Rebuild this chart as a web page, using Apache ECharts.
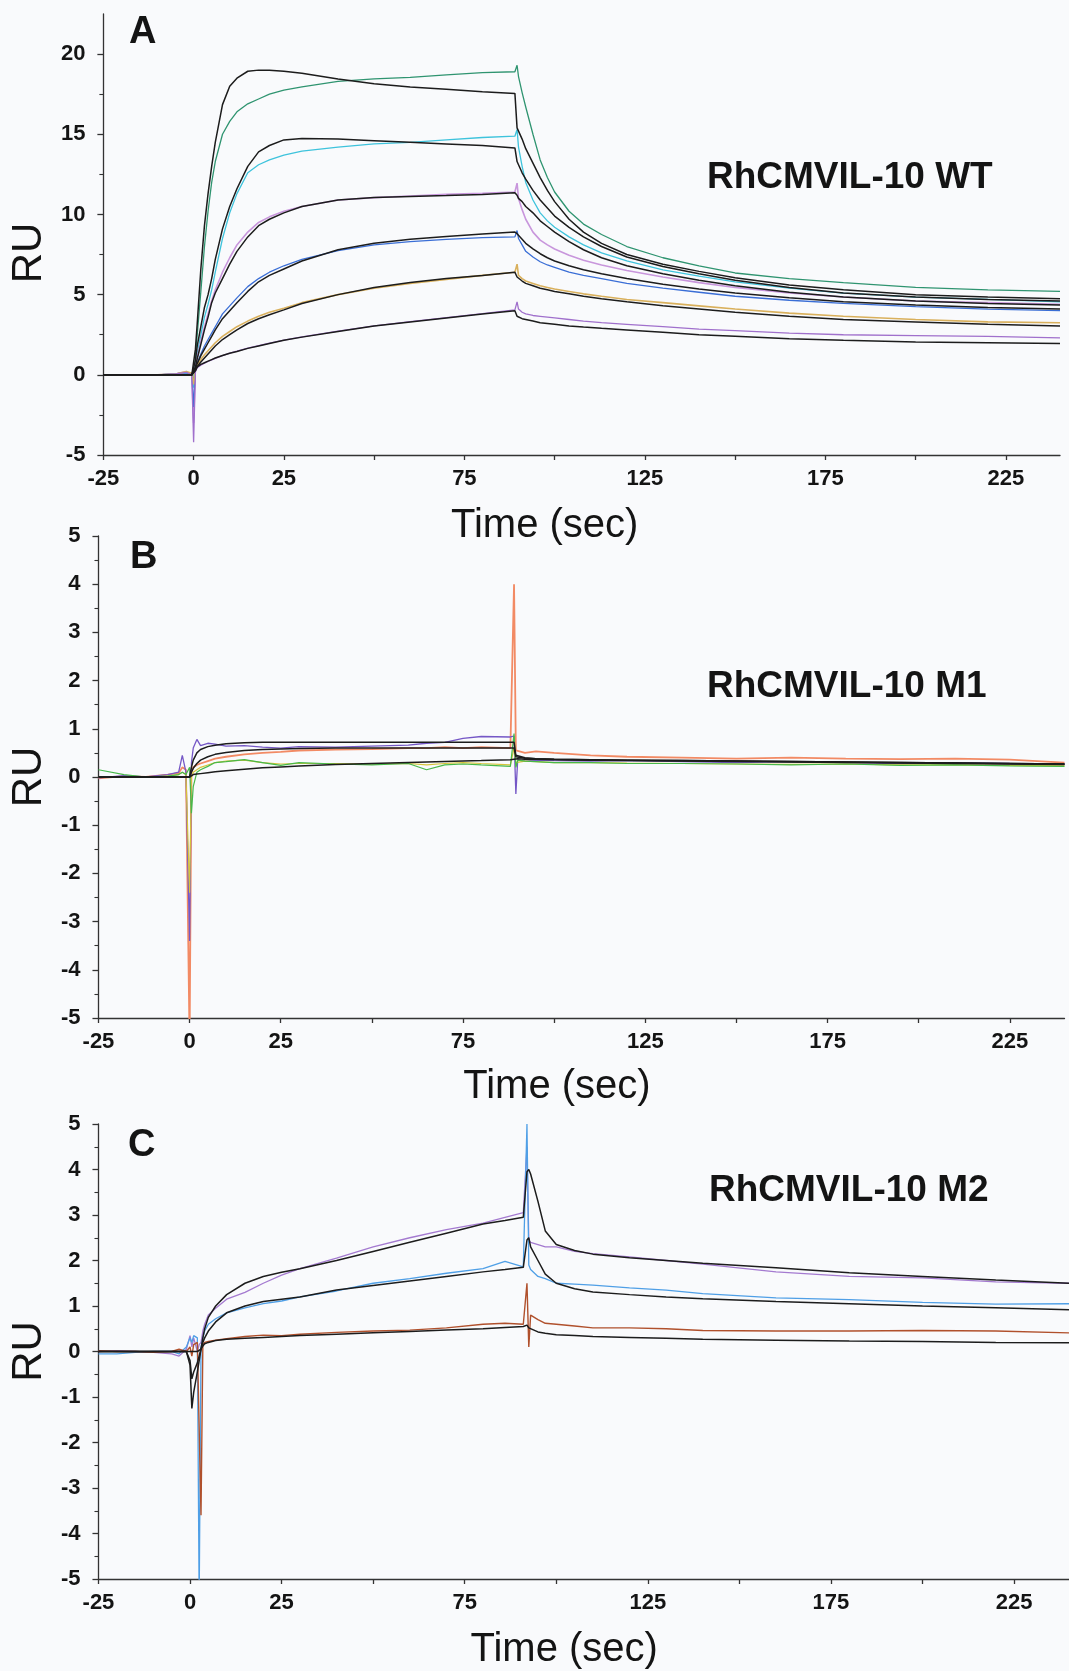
<!DOCTYPE html>
<html>
<head>
<meta charset="utf-8">
<script src="https://cdn.jsdelivr.net/npm/echarts@6/dist/echarts.min.js"></script>
<style>
html,body{margin:0;padding:0;background:#f9fafc;}
#chart{width:1069px;height:1671px;}
</style>
</head>
<body>
<div id="chart"></div>
<script>
// ---------- Tick definitions ----------
const xTickValues = [-25, 0, 25, 50, 75, 100, 125, 150, 175, 200, 225];
const xLabelValues = [-25, 0, 25, 75, 125, 175, 225];
const yTickValuesA = [-5, 0, 5, 10, 15, 20];

// ---------- Panel A : RhCMVIL-10 WT ----------
const tA = [-25, -10, -5, -2, -0.5, 0, 0.5, 1, 2, 3, 4, 5, 6, 8, 10, 12, 15, 18, 21, 25, 30, 40, 50, 60, 70, 80, 89, 89.6, 90, 91, 92, 94, 96, 98, 100, 104, 108, 113, 120, 130, 140, 150, 165, 180, 200, 220, 240];
const aGreen = [0, 0, 0.05, 0.15, 0.05, -0.5, 1.2, 2.5, 5.2, 8.0, 10.2, 12.0, 13.3, 15.0, 15.8, 16.4, 16.9, 17.2, 17.5, 17.75, 17.95, 18.3, 18.45, 18.55, 18.7, 18.85, 18.9, 19.3, 18.6, 17.6, 16.7, 15.0, 13.4, 12.3, 11.4, 10.2, 9.4, 8.75, 8.0, 7.3, 6.8, 6.35, 6.0, 5.75, 5.45, 5.3, 5.2];
const aFit1 = [0, 0, 0, 0, 0, 0, 1.6, 3.2, 6.6, 9.3, 11.3, 13.0, 14.5, 16.85, 18.0, 18.5, 18.93, 19.0, 19.0, 18.93, 18.8, 18.45, 18.15, 17.95, 17.8, 17.65, 17.55, 15.4, 15.3, 14.7, 14.1, 13.2, 12.3, 11.5, 10.8, 9.7, 8.9, 8.2, 7.5, 6.9, 6.45, 6.05, 5.6, 5.3, 5.0, 4.85, 4.75];
const aCyan = [0, 0, 0.05, 0.1, 0, -0.8, 0.7, 1.3, 2.5, 3.6, 4.4, 5.3, 6.4, 8.5, 10.1, 11.3, 12.6, 13.1, 13.4, 13.7, 13.95, 14.2, 14.4, 14.5, 14.65, 14.8, 14.88, 15.3, 14.2, 13.0, 12.0, 10.9, 10.1, 9.6, 9.2, 8.6, 8.1, 7.6, 7.1, 6.55, 6.15, 5.8, 5.4, 5.1, 4.85, 4.7, 4.55];
const aFit2 = [0, 0, 0, 0, 0, 0, 0.9, 1.8, 3.0, 4.2, 5.0, 6.0, 7.2, 9.1, 10.5, 11.6, 13.0, 13.9, 14.3, 14.65, 14.73, 14.7, 14.6, 14.5, 14.4, 14.3, 14.15, 13.3, 13.1, 12.6, 12.2, 11.5, 10.9, 10.4, 9.9, 9.2, 8.6, 8.0, 7.35, 6.75, 6.3, 5.9, 5.45, 5.1, 4.85, 4.7, 4.6];
const aPink = [0, 0, 0.05, 0.2, 0, -3.0, 0.5, 1.1, 2.1, 3.0, 3.8, 4.6, 5.3, 6.4, 7.3, 8.1, 8.9, 9.5, 9.85, 10.2, 10.5, 10.9, 11.05, 11.15, 11.25, 11.32, 11.4, 11.95, 11.0, 10.3, 9.7, 8.9, 8.4, 8.1, 7.85, 7.45, 7.15, 6.85, 6.5, 6.1, 5.75, 5.45, 5.1, 4.85, 4.6, 4.5, 4.4];
const aFit3 = [0, 0, 0, 0, 0, 0, 0.5, 1.0, 1.9, 2.8, 3.6, 4.5, 5.1, 6.0, 6.9, 7.7, 8.6, 9.3, 9.7, 10.1, 10.5, 10.9, 11.05, 11.12, 11.18, 11.25, 11.35, 11.2, 11.0, 10.8, 10.5, 10.1, 9.6, 9.25, 8.9, 8.3, 7.8, 7.3, 6.8, 6.3, 5.9, 5.55, 5.15, 4.85, 4.6, 4.45, 4.35];
const aBlue = [0, 0, 0.05, 0.15, 0, -2.0, 0.4, 0.7, 1.3, 1.8, 2.2, 2.6, 3.0, 3.8, 4.3, 4.8, 5.5, 6.0, 6.4, 6.8, 7.2, 7.75, 8.1, 8.3, 8.45, 8.55, 8.6, 9.0, 8.5, 8.1, 7.7, 7.35, 7.05, 6.85, 6.7, 6.4, 6.2, 6.0, 5.7, 5.4, 5.15, 4.9, 4.65, 4.45, 4.25, 4.1, 4.0];
const aFit4 = [0, 0, 0, 0, 0, 0, 0.4, 0.7, 1.2, 1.6, 2.0, 2.4, 2.8, 3.5, 4.0, 4.5, 5.2, 5.8, 6.2, 6.6, 7.1, 7.8, 8.2, 8.45, 8.62, 8.78, 8.9, 8.8, 8.7, 8.45, 8.2, 7.85, 7.55, 7.3, 7.1, 6.8, 6.55, 6.3, 6.0, 5.65, 5.35, 5.1, 4.8, 4.55, 4.35, 4.2, 4.1];
const aYellow = [0, 0, 0.05, 0.2, 0.1, -0.6, 0.3, 0.6, 0.95, 1.25, 1.5, 1.75, 2.0, 2.4, 2.7, 3.0, 3.35, 3.65, 3.9, 4.15, 4.5, 5.0, 5.4, 5.7, 5.95, 6.2, 6.4, 6.9, 6.2, 6.0, 5.85, 5.7, 5.55, 5.45, 5.35, 5.2, 5.05, 4.9, 4.7, 4.5, 4.3, 4.1, 3.85, 3.65, 3.45, 3.3, 3.25];
const aFit5 = [0, 0, 0, 0, 0, 0, 0.3, 0.5, 0.8, 1.05, 1.3, 1.55, 1.8, 2.2, 2.5, 2.8, 3.2, 3.5, 3.75, 4.05, 4.45, 5.0, 5.45, 5.75, 6.0, 6.2, 6.4, 6.1, 6.0, 5.85, 5.7, 5.55, 5.4, 5.3, 5.2, 5.05, 4.9, 4.75, 4.55, 4.3, 4.1, 3.9, 3.65, 3.45, 3.3, 3.15, 3.05];
const aPurple = [0, 0, 0.05, 0.15, 0, -4.2, 0.2, 0.45, 0.6, 0.72, 0.83, 0.93, 1.03, 1.2, 1.35, 1.47, 1.66, 1.82, 1.97, 2.17, 2.37, 2.72, 3.05, 3.32, 3.57, 3.82, 4.05, 4.55, 4.1, 3.9, 3.8, 3.7, 3.65, 3.6, 3.55, 3.45, 3.35, 3.25, 3.15, 3.0, 2.85, 2.75, 2.6, 2.5, 2.45, 2.4, 2.3];
const aFit6 = [0, 0, 0, 0, 0, 0, 0.25, 0.5, 0.65, 0.75, 0.85, 0.95, 1.05, 1.2, 1.35, 1.45, 1.65, 1.8, 1.95, 2.15, 2.35, 2.7, 3.05, 3.3, 3.55, 3.8, 4.0, 3.65, 3.6, 3.5, 3.45, 3.35, 3.25, 3.2, 3.15, 3.05, 2.98, 2.9, 2.8, 2.65, 2.5, 2.4, 2.25, 2.15, 2.05, 2.0, 1.95];

// ---------- Panel B : RhCMVIL-10 M1 ----------
const tB = [-25, -18, -12, -6, -3, -2, -1, 0, 0.5, 1, 2, 3, 5, 7, 10, 15, 20, 25, 30, 40, 50, 60, 65, 70, 75, 80, 88, 89, 89.5, 90, 92, 95, 100, 110, 120, 135, 150, 165, 180, 195, 210, 225, 240];
const bOrange = [-0.03, 0.02, 0.0, 0.05, 0.08, 0.2, 0.15, -5.5, 0.1, 0.2, 0.25, 0.28, 0.33, 0.38, 0.42, 0.47, 0.5, 0.52, 0.55, 0.57, 0.58, 0.6, 0.6, 0.62, 0.6, 0.62, 0.6, 4.0, 0.55, 0.52, 0.5, 0.53, 0.5, 0.45, 0.42, 0.4, 0.38, 0.4, 0.38, 0.37, 0.38, 0.36, 0.3];
const bPurple = [-0.02, 0.03, 0.0, 0.05, 0.1, 0.45, 0.1, -3.4, 0.3, 0.6, 0.78, 0.65, 0.7, 0.68, 0.64, 0.65, 0.62, 0.6, 0.63, 0.62, 0.64, 0.66, 0.7, 0.72, 0.8, 0.84, 0.83, 0.85, -0.35, 0.35, 0.33, 0.35, 0.34, 0.33, 0.34, 0.32, 0.3, 0.32, 0.3, 0.28, 0.3, 0.28, 0.27];
const bYellow = [0, 0, 0, 0.02, 0.05, 0.1, 0.05, -2.4, 0.0, 0.1, 0.15, 0.2, 0.25, 0.3, 0.33, 0.35, 0.3, 0.27, 0.28, 0.28, 0.27, 0.28, 0.25, 0.28, 0.3, 0.28, 0.25, 0.6, 0.3, 0.33, 0.33, 0.32, 0.3, 0.3, 0.29, 0.28, 0.27, 0.26, 0.27, 0.25, 0.25, 0.24, 0.23];
const bGreen = [0.15, 0.05, 0.0, 0.02, 0.05, 0.1, 0.05, 0.2, -0.75, -0.2, 0.1, 0.15, 0.22, 0.3, 0.32, 0.36, 0.3, 0.24, 0.3, 0.27, 0.25, 0.28, 0.15, 0.25, 0.27, 0.25, 0.22, 0.9, 0.2, 0.35, 0.33, 0.32, 0.3, 0.3, 0.28, 0.28, 0.27, 0.25, 0.27, 0.24, 0.25, 0.23, 0.22];
const bFit1 = [0, 0, 0, 0, 0, 0, 0, 0, 0.2, 0.35, 0.5, 0.57, 0.63, 0.66, 0.69, 0.71, 0.72, 0.72, 0.72, 0.72, 0.72, 0.72, 0.72, 0.72, 0.72, 0.72, 0.72, 0.72, 0.45, 0.42, 0.4, 0.38, 0.37, 0.36, 0.35, 0.34, 0.33, 0.32, 0.31, 0.3, 0.29, 0.28, 0.27];
const bFit2 = [0, 0, 0, 0, 0, 0, 0, 0, 0.1, 0.18, 0.28, 0.35, 0.42, 0.47, 0.51, 0.55, 0.57, 0.58, 0.59, 0.6, 0.6, 0.6, 0.6, 0.6, 0.6, 0.6, 0.6, 0.6, 0.42, 0.4, 0.39, 0.38, 0.37, 0.36, 0.35, 0.34, 0.33, 0.32, 0.31, 0.3, 0.29, 0.28, 0.27];
const bFit3 = [0, 0, 0, 0, 0, 0, 0, 0, 0.03, 0.05, 0.06, 0.07, 0.09, 0.11, 0.13, 0.16, 0.19, 0.21, 0.23, 0.26, 0.28, 0.3, 0.31, 0.32, 0.33, 0.34, 0.36, 0.37, 0.38, 0.38, 0.37, 0.37, 0.36, 0.35, 0.34, 0.33, 0.32, 0.31, 0.3, 0.29, 0.28, 0.27, 0.26];

// ---------- Panel C : RhCMVIL-10 M2 ----------
const tC = [-25, -20, -15, -10, -5, -3, -1, 0, 0.5, 1, 2, 2.5, 3, 3.5, 4, 5, 7, 10, 15, 20, 25, 30, 40, 50, 60, 70, 80, 86, 91, 92, 92.5, 93, 95, 97, 100, 105, 110, 120, 130, 140, 160, 180, 200, 220, 240];
const cPurple = [0.0, 0.02, 0.0, -0.02, -0.05, -0.1, 0.05, 0.35, 0.1, 0.3, 0.0, 0.15, 0.2, 0.45, 0.6, 0.8, 0.95, 1.15, 1.3, 1.5, 1.68, 1.82, 2.05, 2.3, 2.5, 2.68, 2.82, 2.95, 3.05, 4.5, 2.45, 2.4, 2.35, 2.3, 2.3, 2.2, 2.15, 2.08, 2.0, 1.92, 1.75, 1.65, 1.62, 1.53, 1.5];
const cBlue = [-0.05, -0.05, -0.02, 0.0, 0.0, -0.05, 0.1, 0.3, 0.2, 0.35, 0.3, -5.5, 0.1, 0.3, 0.45, 0.6, 0.72, 0.85, 0.96, 1.05, 1.11, 1.2, 1.33, 1.5, 1.6, 1.72, 1.82, 1.98, 1.86, 5.0, 1.9, 1.8, 1.65, 1.6, 1.5, 1.48, 1.46, 1.4, 1.35, 1.27, 1.18, 1.14, 1.08, 1.04, 1.05];
const cBrown = [0.02, 0.0, 0.0, -0.02, 0.0, 0.05, 0.0, 0.1, -0.1, 0.15, 0.2, 0.2, -3.6, 0.15, 0.2, 0.22, 0.25, 0.28, 0.33, 0.36, 0.35, 0.38, 0.42, 0.45, 0.47, 0.52, 0.6, 0.62, 0.6, 1.5, 0.1, 0.8, 0.7, 0.62, 0.6, 0.56, 0.52, 0.52, 0.5, 0.46, 0.45, 0.45, 0.46, 0.45, 0.41];
const cFit1 = [0, 0, 0, 0, 0, 0, 0, -0.3, -1.25, -0.9, -0.45, -0.2, 0.05, 0.3, 0.5, 0.75, 1.0, 1.25, 1.5, 1.65, 1.74, 1.82, 2.0, 2.2, 2.4, 2.6, 2.8, 2.88, 2.95, 3.95, 4.0, 3.9, 3.3, 2.65, 2.35, 2.22, 2.14, 2.06, 2.0, 1.94, 1.84, 1.73, 1.65, 1.57, 1.5];
const cFit2 = [0, 0, 0, 0, 0, 0, 0, -0.2, -0.6, -0.45, -0.25, -0.1, 0.05, 0.2, 0.3, 0.45, 0.65, 0.85, 1.0, 1.1, 1.15, 1.2, 1.35, 1.45, 1.55, 1.65, 1.75, 1.8, 1.85, 2.45, 2.5, 2.3, 2.0, 1.7, 1.5, 1.38, 1.31, 1.25, 1.2, 1.16, 1.1, 1.05, 1.0, 0.96, 0.92];
const cFit3 = [0, 0, 0, 0, 0, 0, 0, 0, 0, 0, 0, 0, 0.05, 0.12, 0.17, 0.2, 0.24, 0.27, 0.29, 0.31, 0.33, 0.35, 0.38, 0.41, 0.44, 0.47, 0.5, 0.53, 0.55, 0.58, 0.52, 0.48, 0.43, 0.4, 0.37, 0.35, 0.33, 0.31, 0.29, 0.27, 0.25, 0.23, 0.22, 0.2, 0.19];

// ---------- Build ----------
const FONT = 'Liberation Sans, Arial, Helvetica, sans-serif';
const INK = '#141414';
const FIT = '#1c1c1c';

function pairs(t, v) { return t.map((x, i) => [x, v[i]]); }
function line(idx, t, v, color, w, z) {
  return {
    type: 'line', xAxisIndex: idx, yAxisIndex: idx, data: pairs(t, v),
    showSymbol: false, symbol: 'none', clip: true, z: z || 2,
    lineStyle: { color: color, width: w }, itemStyle: { color: color },
    emphasis: { disabled: true }, silent: true
  };
}

const grids = [
  { left: 95, top: 14, width: 965, height: 441 },
  { left: 96.5, top: 536, width: 968, height: 482 },
  { left: 93, top: 1124, width: 982, height: 463 }
];

function xAxis(i, nameGap, namePad) {
  return {
    type: 'value', gridIndex: i, min: -25, max: 240, interval: 25,
    axisLine: { show: true, onZero: false, lineStyle: { color: '#333', width: 1.3 } },
    axisTick: { show: true, length: 5, customValues: xTickValues, lineStyle: { color: '#333', width: 1.3 } },
    axisLabel: {
      customValues: xLabelValues, margin: 13,
      fontFamily: FONT, fontWeight: 'bold', fontSize: 22, color: INK,
      formatter: v => (xLabelValues.indexOf(v) >= 0 ? String(v) : '')
    },
    splitLine: { show: false },
    name: 'Time (sec)', nameLocation: 'middle', nameGap: nameGap,
    nameTextStyle: { fontFamily: FONT, fontSize: 40, color: INK, padding: [0, namePad, 0, 0] }
  };
}
function yAxis(i, min, max, interval, extra, namePad) {
  const ax = {
    type: 'value', gridIndex: i, min: min, max: max, interval: interval,
    axisLine: { show: true, onZero: false, lineStyle: { color: '#333', width: 1.3 } },
    axisTick: { show: true, length: 6, lineStyle: { color: '#333', width: 1.3 } },
    minorTick: { show: true, splitNumber: 2, length: 4, lineStyle: { color: '#333', width: 1.1 } },
    axisLabel: { margin: 18, fontFamily: FONT, fontWeight: 'bold', fontSize: 22, color: INK },
    splitLine: { show: false },
    name: 'RU', nameLocation: 'middle', nameGap: 40,
    nameTextStyle: { fontFamily: FONT, fontSize: 42, color: INK, padding: [0, namePad, 0, 0] }
  };
  if (extra) {
    ax.axisTick.customValues = extra;
    ax.axisLabel.customValues = extra;
    ax.axisLabel.formatter = v => (extra.indexOf(v) >= 0 ? String(v) : '');
  }
  return ax;
}

const series = [
  // Panel A data
  line(0, tA, aGreen, '#2f9470', 1.3),
  line(0, tA, aCyan, '#3ec3dc', 1.3),
  line(0, tA, aPink, '#c896dc', 1.6),
  line(0, tA, aBlue, '#3a6ed6', 1.3),
  line(0, tA, aYellow, '#d9b05c', 1.6),
  line(0, tA, aPurple, '#a070cc', 1.3),
  // Panel A fits
  line(0, tA, aFit1, FIT, 1.5, 3),
  line(0, tA, aFit2, FIT, 1.5, 3),
  line(0, tA, aFit3, FIT, 1.5, 3),
  line(0, tA, aFit4, FIT, 1.5, 3),
  line(0, tA, aFit5, FIT, 1.5, 3),
  line(0, tA, aFit6, FIT, 1.5, 3),
  // Panel B data
  line(1, tB, bOrange, '#f28a64', 1.8),
  line(1, tB, bPurple, '#7557c6', 1.3),
  line(1, tB, bYellow, '#d6c43a', 1.2),
  line(1, tB, bGreen, '#48b84a', 1.2),
  // Panel B fits
  line(1, tB, bFit1, FIT, 1.5, 3),
  line(1, tB, bFit2, FIT, 1.5, 3),
  line(1, tB, bFit3, FIT, 1.5, 3),
  // Panel C data
  line(2, tC, cPurple, '#a47ad0', 1.3),
  line(2, tC, cBlue, '#4f9fe6', 1.3),
  line(2, tC, cBrown, '#b0502c', 1.4),
  // Panel C fits
  line(2, tC, cFit1, FIT, 1.5, 3),
  line(2, tC, cFit2, FIT, 1.5, 3),
  line(2, tC, cFit3, FIT, 1.5, 3)
];

function txt(x, y, s, size) {
  return {
    type: 'text', left: x, top: y, silent: true, z: 10,
    style: { text: s, x: 0, y: 0, fill: INK, font: 'bold ' + size + 'px ' + FONT, textVerticalAlign: 'top' }
  };
}

const chart = echarts.init(document.getElementById('chart'), null, { renderer: 'canvas' });
chart.setOption({
  animation: false,
  backgroundColor: '#f9fafc',
  grid: grids,
  xAxis: [xAxis(0, 51, 74), xAxis(1, 49, 49), xAxis(2, 51, 39)],
  yAxis: [
    yAxis(0, -5, 22.5, 5, yTickValuesA, 37),
    yAxis(1, -5, 5, 1, null, 0),
    yAxis(2, -5, 5, 1, null, 0)
  ],
  series: series,
  graphic: [
    txt(129, 14, 'A', 38),
    txt(130, 539, 'B', 38),
    txt(128, 1127, 'C', 38),
    txt(707, 159, 'RhCMVIL-10 WT', 37),
    txt(707, 668, 'RhCMVIL-10 M1', 37),
    txt(709, 1172, 'RhCMVIL-10 M2', 37)
  ]
});
</script>
</body>
</html>
